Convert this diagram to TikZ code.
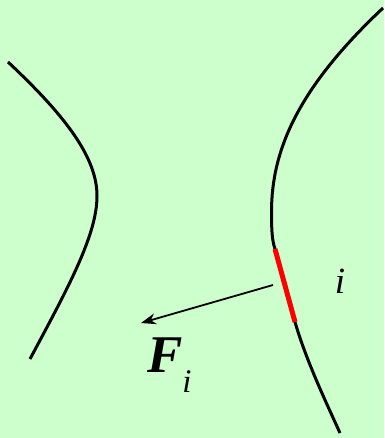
\documentclass[tikz,border=0pt]{standalone}
\usepackage{fontspec}
\setmainfont{Liberation Serif}
\usetikzlibrary{arrows.meta}
\definecolor{bggreen}{HTML}{CCFFCC}
\definecolor{segred}{HTML}{FF0000}
\tikzset{
  curveline/.style={line width=3pt, black},
  segline/.style={line width=5pt, segred},
  forcearrow/.style={line width=1.8pt, black, -{Stealth[length=15pt,width=11pt]}},
  lbl/.style={inner sep=0pt, outer sep=0pt}
}
\begin{document}
\begin{tikzpicture}[x=1pt,y=-1pt]
\fill[bggreen] (0,0) rectangle (384,438);
\useasboundingbox (0,0) rectangle (384,438);
% left curve
\coordinate (l1) at (8,62);
\coordinate (l2) at (97,196);
\coordinate (l3) at (30,359);
\draw[curveline] (l1) .. controls (70,120) and (97,160) .. (l2) .. controls (97,235) and (68,288) .. (l3);
% right curve
\coordinate (r1) at (383,8);
\coordinate (r2) at (271.5,212);
\coordinate (ra) at (275,249);
\coordinate (rb) at (295,322);
\coordinate (r3) at (340,433);
\draw[curveline] (r1) .. controls (298,88) and (271.5,150) .. (r2) .. controls (271.5,230) and (272,240) .. (ra) -- (rb) .. controls (306,360) and (325,400) .. (r3);
\draw[segline] (ra) -- (rb);
% force arrow
\coordinate (fs) at (273,285);
\coordinate (fe) at (141,323);
\draw[forcearrow] (fs) -- (fe);
% labels
\node[lbl, anchor=base west] (F) at (147,372) {{\fontsize{53}{60}\selectfont\bfseries\itshape F}\raisebox{-20pt}{\fontsize{33}{40}\selectfont\itshape i}};
\node[lbl, anchor=base] (il) at (340,293) {\fontsize{37}{44}\selectfont\itshape i};
\end{tikzpicture}
\end{document}
